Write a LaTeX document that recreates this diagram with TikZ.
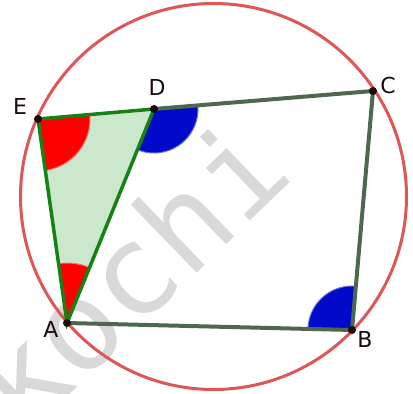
\documentclass[tikz,border=0pt]{standalone}
\usepackage{fontspec}
\setmainfont{DejaVu Sans}
\newfontfamily\wmfont{DejaVu Sans Mono}
\usetikzlibrary{angles}

\definecolor{circred}{RGB}{222,86,86}
\definecolor{trifill}{RGB}{204,232,204}
\definecolor{trigreen}{RGB}{20,130,20}
\definecolor{sidegreen}{RGB}{78,104,78}
\definecolor{angblue}{RGB}{0,10,200}
\definecolor{ptblack}{RGB}{26,10,10}
\definecolor{wmgray}{RGB}{217,217,217}

\begin{document}
\begin{tikzpicture}[
  x=1pt, y=-1pt,
  circ/.style={draw=circred, line width=3pt},
  tri/.style={draw=trigreen, line width=3.5pt, line cap=round},
  side/.style={draw=sidegreen, line width=4pt, line cap=round},
  redang/.style={fill=red, draw=red!55, line width=1pt},
  blueang/.style={fill=angblue, draw=angblue!60, line width=1pt},
  pt/.style={fill=ptblack},
  lbl/.style={text=ptblack, font=\fontsize{22}{22}\selectfont, inner sep=0pt},
  wm/.style={text=wmgray, font=\wmfont\fontsize{125}{125}\selectfont, inner sep=0pt}
]
\useasboundingbox (0,0) rectangle (413,394);
\clip (0,0) rectangle (413,394);
% points
\coordinate (O) at (213.5,196.5);
\coordinate (A) at (67,323);
\coordinate (B) at (352,330);
\coordinate (C) at (373,91);
\coordinate (D) at (154,109);
\coordinate (E) at (38,119);
% watermark
\node[wm, rotate=44, anchor=base west] (mark) at (25.5,438) {kochi};
% circle and triangle
\draw[circ] (O) circle (193);
\fill[trifill] (E) -- (D) -- (A) -- cycle;
% angles
\pic[redang, angle radius=52pt] {angle=A--E--D};
\pic[redang, angle radius=60pt] {angle=D--A--E};
\pic[blueang, angle radius=44pt] {angle=A--D--C};
\pic[blueang, angle radius=44pt] {angle=C--B--A};
% sides
\draw[side] (D) -- (C) -- (B) -- (A);
\draw[tri] (E) -- (D) -- (A) -- cycle;
\foreach \p in {A,B,C,D,E}
  \fill[pt] (\p) circle (4);
% labels
\node[lbl] (lA) at (51,329) {A};
\node[lbl] (lB) at (365,339) {B};
\node[lbl] (lC) at (388,85) {C};
\node[lbl] (lD) at (157,87) {D};
\node[lbl] (lE) at (20,106) {E};
\end{tikzpicture}
\end{document}
